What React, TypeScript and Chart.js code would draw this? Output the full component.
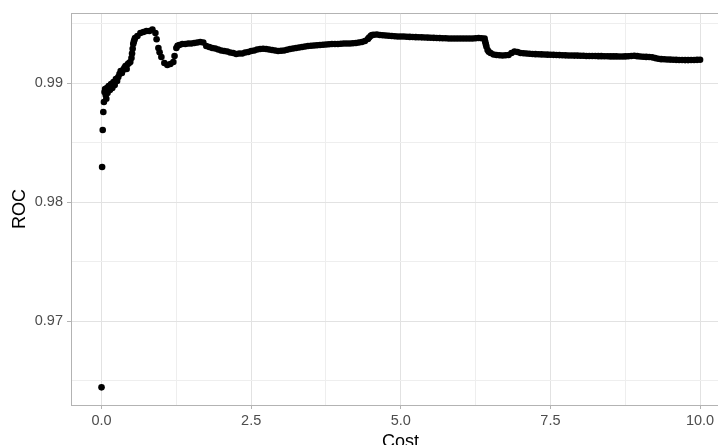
import React, { useEffect, useRef } from "react";
import { Chart, registerables } from "chart.js";

Chart.register(...registerables);

const cost = [
  0, 0.01, 0.02, 0.03, 0.04, 0.05, 0.06, 0.07, 0.08, 0.09,
  0.10, 0.12, 0.14, 0.16, 0.18, 0.20, 0.22, 0.24, 0.26, 0.28,
  0.30, 0.32, 0.34, 0.36, 0.38, 0.40, 0.42, 0.44, 0.46, 0.48,
  0.50, 0.51, 0.52, 0.53, 0.54, 0.55, 0.56, 0.60, 0.65, 0.70,
  0.75, 0.80, 0.85, 0.90, 0.92, 0.95, 0.97, 1.00, 1.05, 1.10,
  1.15, 1.20, 1.22, 1.25, 1.27, 1.30, 1.35, 1.40, 1.45, 1.50,
  1.55, 1.60, 1.65, 1.70, 1.75, 1.80, 1.85, 1.90, 1.95, 2.00,
  2.05, 2.10, 2.15, 2.20, 2.25, 2.30, 2.35, 2.40, 2.45, 2.50,
  2.55, 2.60, 2.65, 2.70, 2.75, 2.80, 2.85, 2.90, 2.95, 3.00,
  3.05, 3.10, 3.15, 3.20, 3.25, 3.30, 3.35, 3.40, 3.45, 3.50,
  3.55, 3.60, 3.65, 3.70, 3.75, 3.80, 3.85, 3.90, 3.95, 4.00,
  4.05, 4.10, 4.15, 4.20, 4.25, 4.30, 4.35, 4.40, 4.45, 4.47,
  4.50, 4.52, 4.55, 4.60, 4.65, 4.70, 4.75, 4.80, 4.85, 4.90,
  4.95, 5.00, 5.05, 5.10, 5.15, 5.20, 5.25, 5.30, 5.35, 5.40,
  5.45, 5.50, 5.55, 5.60, 5.65, 5.70, 5.75, 5.80, 5.85, 5.90,
  5.95, 6.00, 6.05, 6.10, 6.15, 6.20, 6.25, 6.30, 6.35, 6.40,
  6.41, 6.42, 6.43, 6.45, 6.47, 6.50, 6.55, 6.60, 6.65, 6.70,
  6.75, 6.80, 6.85, 6.90, 6.95, 7.00, 7.05, 7.10, 7.15, 7.20,
  7.25, 7.30, 7.35, 7.40, 7.45, 7.50, 7.55, 7.60, 7.65, 7.70,
  7.75, 7.80, 7.85, 7.90, 7.95, 8.00, 8.05, 8.10, 8.15, 8.20,
  8.25, 8.30, 8.35, 8.40, 8.45, 8.50, 8.55, 8.60, 8.65, 8.70,
  8.75, 8.80, 8.85, 8.90, 8.95, 9.00, 9.05, 9.10, 9.15, 9.20,
  9.25, 9.30, 9.35, 9.40, 9.45, 9.50, 9.55, 9.60, 9.65, 9.70,
  9.75, 9.80, 9.85, 9.90, 9.95, 10.00,
];

const roc = [
  0.96445, 0.98297, 0.98608, 0.98759, 0.98843, 0.98927, 0.98952, 0.98902, 0.98870, 0.98961,
  0.98918, 0.98977, 0.98944, 0.98994, 0.98961, 0.99011, 0.98985, 0.99036, 0.99020, 0.99053,
  0.99078, 0.99103, 0.99087, 0.99112, 0.99129, 0.99145, 0.99120, 0.99162, 0.99171, 0.99179,
  0.99213, 0.99250, 0.99290, 0.99330, 0.99350, 0.99365, 0.99381, 0.99397, 0.99423, 0.99431,
  0.99439, 0.99439, 0.99452, 0.99423, 0.99370, 0.99297, 0.99260, 0.99221, 0.99171, 0.99154,
  0.99162, 0.99179, 0.99229, 0.99297, 0.99315, 0.99322, 0.99330, 0.99330, 0.99334, 0.99334,
  0.99339, 0.99343, 0.99347, 0.99343, 0.99313, 0.99305, 0.99297, 0.99293, 0.99284, 0.99276,
  0.99271, 0.99267, 0.99259, 0.99255, 0.99246, 0.99250, 0.99250, 0.99259, 0.99263, 0.99271,
  0.99276, 0.99284, 0.99288, 0.99290, 0.99288, 0.99284, 0.99280, 0.99276, 0.99271, 0.99274,
  0.99276, 0.99282, 0.99288, 0.99293, 0.99297, 0.99301, 0.99305, 0.99309, 0.99313, 0.99316,
  0.99318, 0.99320, 0.99322, 0.99324, 0.99326, 0.99328, 0.99330, 0.99330, 0.99330, 0.99332,
  0.99334, 0.99334, 0.99334, 0.99337, 0.99339, 0.99343, 0.99347, 0.99355, 0.99372, 0.99385,
  0.99400, 0.99405, 0.99408, 0.99410, 0.99406, 0.99404, 0.99402, 0.99400, 0.99397, 0.99395,
  0.99393, 0.99393, 0.99393, 0.99391, 0.99390, 0.99389, 0.99388, 0.99387, 0.99386, 0.99385,
  0.99384, 0.99383, 0.99382, 0.99381, 0.99380, 0.99379, 0.99378, 0.99376, 0.99376, 0.99376,
  0.99376, 0.99376, 0.99376, 0.99376, 0.99376, 0.99376, 0.99378, 0.99381, 0.99378, 0.99376,
  0.99350, 0.99330, 0.99310, 0.99280, 0.99265, 0.99255, 0.99242, 0.99238, 0.99236, 0.99234,
  0.99236, 0.99238, 0.99255, 0.99267, 0.99263, 0.99255, 0.99252, 0.99250, 0.99248, 0.99246,
  0.99245, 0.99244, 0.99243, 0.99242, 0.99241, 0.99240, 0.99239, 0.99238, 0.99237, 0.99236,
  0.99235, 0.99234, 0.99234, 0.99233, 0.99233, 0.99232, 0.99231, 0.99230, 0.99230, 0.99229,
  0.99229, 0.99228, 0.99228, 0.99227, 0.99227, 0.99226, 0.99226, 0.99226, 0.99225, 0.99225,
  0.99226, 0.99227, 0.99229, 0.99232, 0.99228, 0.99225, 0.99223, 0.99222, 0.99221, 0.99218,
  0.99212, 0.99206, 0.99203, 0.99202, 0.99200, 0.99199, 0.99198, 0.99197, 0.99196, 0.99196,
  0.99195, 0.99195, 0.99196, 0.99196, 0.99197, 0.99198,
];

const xMajorTicks = [0, 2.5, 5, 7.5, 10];
const xMajorLabels = ["0.0", "2.5", "5.0", "7.5", "10.0"];
const xMinorTicks = [1.25, 3.75, 6.25, 8.75];
const yMajorTicks = [0.97, 0.98, 0.99];
const yMajorLabels = ["0.97", "0.98", "0.99"];
const yMinorTicks = [0.965, 0.975, 0.985, 0.995];

const xTitle = "Cost";
const yTitle = "ROC";

const FONT = "'Liberation Sans', Arial, sans-serif";
const MAJOR_GRID = "#E2E2E2";
const MINOR_GRID = "#EEEEEE";
const BORDER = "#B3B3B3";

function isMajor(list: number[], v: number) {
  return list.some((m) => Math.abs(m - v) < 1e-9);
}

export default function App() {
  const ref = useRef<HTMLCanvasElement | null>(null);

  useEffect(() => {
    if (!ref.current) return;
    const data = cost.map((c, i) => ({ x: c, y: roc[i] }));
    const xAll = [...xMajorTicks, ...xMinorTicks].sort((a, b) => a - b);
    const yAll = [...yMajorTicks, ...yMinorTicks].sort((a, b) => a - b);

    const topBorder = {
      id: "topBorder",
      beforeDatasetsDraw(chart: any) {
        const { ctx, chartArea } = chart;
        ctx.save();
        ctx.strokeStyle = BORDER;
        ctx.lineWidth = 1;
        ctx.beginPath();
        ctx.moveTo(chartArea.left, chartArea.top + 0.5);
        ctx.lineTo(chartArea.right, chartArea.top + 0.5);
        ctx.stroke();
        ctx.restore();
      },
    };

    const chart = new Chart(ref.current, {
      type: "scatter",
      data: {
        datasets: [
          {
            data,
            backgroundColor: "#000000",
            borderColor: "#000000",
            borderWidth: 0,
            pointRadius: 3.3,
            pointHoverRadius: 3.3,
          },
        ],
      },
      plugins: [topBorder],
      options: {
        animation: false,
        responsive: false,
        devicePixelRatio: 1,
        layout: { padding: { top: 13, right: 10, left: 0, bottom: 0 } },
        plugins: { legend: { display: false }, tooltip: { enabled: false } },
        scales: {
          x: {
            type: "linear",
            min: -0.51,
            max: 10.5,
            afterFit: (s: any) => {
              s.height = 40;
            },
            afterBuildTicks: (s: any) => {
              s.ticks = xAll.map((v) => ({ value: v }));
            },
            ticks: {
              autoSkip: false,
              maxRotation: 0,
              padding: 3,
              color: "#4D4D4D",
              font: { family: FONT, size: 14.5 },
              callback: (v: any) => {
                const i = xMajorTicks.findIndex((m) => Math.abs(m - v) < 1e-9);
                return i >= 0 ? xMajorLabels[i] : "";
              },
            },
            grid: {
              color: (c: any) => (isMajor(xMajorTicks, c.tick?.value) ? MAJOR_GRID : MINOR_GRID),
              tickColor: (c: any) => (isMajor(xMajorTicks, c.tick?.value) ? BORDER : "rgba(0,0,0,0)"),
              tickLength: 4,
              lineWidth: 1,
            },
            border: { color: BORDER, width: 1 },
            title: {
              display: true,
              text: xTitle,
              color: "#000000",
              font: { family: FONT, size: 18, lineHeight: 0.3 },
              padding: { top: 0, bottom: 0 },
            },
          },
          y: {
            type: "linear",
            min: 0.962966,
            max: 0.995908,
            afterFit: (s: any) => {
              s.width = 71;
            },
            afterBuildTicks: (s: any) => {
              s.ticks = yAll.map((v) => ({ value: v }));
            },
            ticks: {
              autoSkip: false,
              padding: 4,
              color: "#4D4D4D",
              font: { family: FONT, size: 14.5 },
              callback: (v: any) => {
                const i = yMajorTicks.findIndex((m) => Math.abs(m - v) < 1e-9);
                return i >= 0 ? yMajorLabels[i] : "";
              },
            },
            grid: {
              color: (c: any) => (isMajor(yMajorTicks, c.tick?.value) ? MAJOR_GRID : MINOR_GRID),
              tickColor: (c: any) => (isMajor(yMajorTicks, c.tick?.value) ? BORDER : "rgba(0,0,0,0)"),
              tickLength: 4,
              lineWidth: 1,
            },
            border: { color: BORDER, width: 1 },
            title: {
              display: true,
              text: yTitle,
              color: "#000000",
              font: { family: FONT, size: 18, lineHeight: 0.5 },
              padding: { top: 15.5, bottom: 0 },
            },
          },
        },
      },
    });
    return () => chart.destroy();
  }, []);

  return (
    <div
      style={{
        position: "absolute",
        left: 0,
        top: 0,
        width: 718,
        height: 445,
        overflow: "hidden",
        background: "#FFFFFF",
      }}
    >
      <canvas ref={ref} width={740} height={445} style={{ display: "block" }} />
    </div>
  );
}
